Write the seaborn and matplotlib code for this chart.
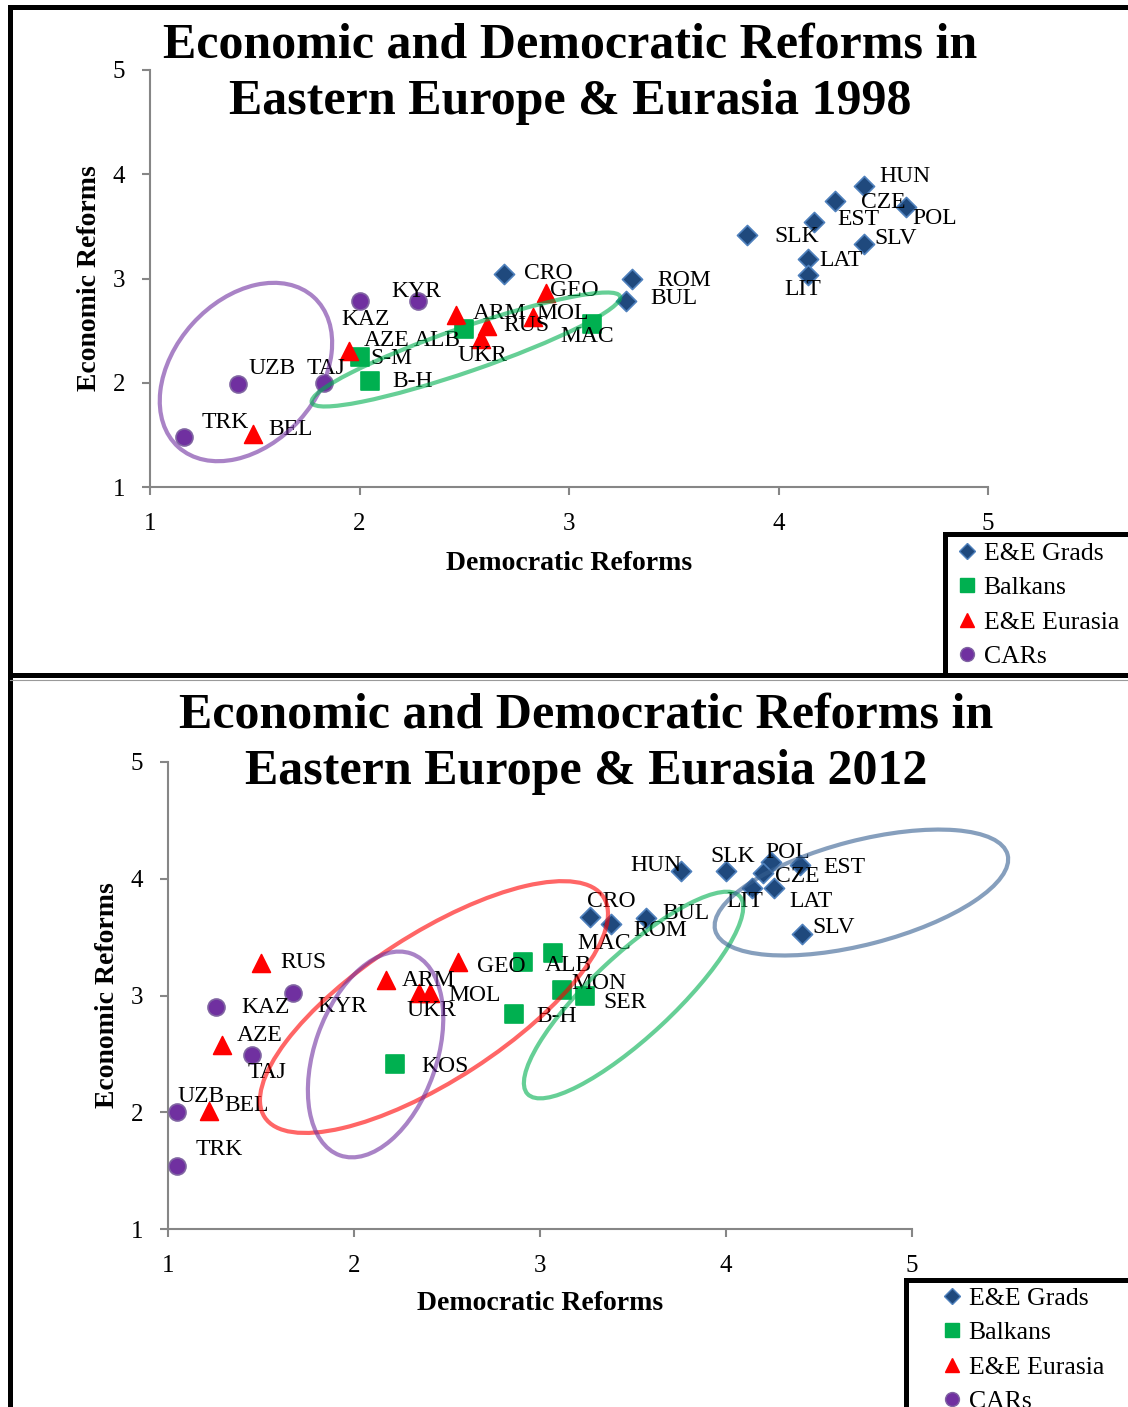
import pandas as pd
import matplotlib.pyplot as plt
import seaborn as sns
from matplotlib import transforms
from matplotlib.patches import Ellipse
from matplotlib.lines import Line2D

sns.set_style("ticks")
plt.rcParams["font.family"] = ["Liberation Serif", "DejaVu Serif"]
plt.rcParams["text.color"] = "black"

# ---------------- data: 1998 ----------------
grads_98 = ["HUN", "CZE", "POL", "EST", "SLV", "SLK", "LAT", "LIT", "CRO", "ROM", "BUL"]
grads_98_dem = [4.41, 4.27, 4.61, 4.17, 4.41, 3.85, 4.14, 4.14, 2.69, 3.30, 3.27]
grads_98_econ = [3.89, 3.74, 3.69, 3.54, 3.33, 3.42, 3.19, 3.03, 3.04, 3.00, 2.78]

balkans_98 = ["S-M", "B-H", "ALB", "MAC"]
balkans_98_dem = [2.00, 2.05, 2.50, 3.11]
balkans_98_econ = [2.25, 2.02, 2.52, 2.56]

eurasia_98 = ["AZE", "ARM", "RUS", "UKR", "MOL", "GEO", "BEL"]
eurasia_98_dem = [1.95, 2.46, 2.61, 2.58, 2.83, 2.89, 1.49]
eurasia_98_econ = [2.30, 2.65, 2.54, 2.42, 2.63, 2.86, 1.51]

cars_98 = ["TRK", "UZB", "TAJ", "KAZ", "KYR"]
cars_98_dem = [1.16, 1.42, 1.83, 2.00, 2.28]
cars_98_econ = [1.48, 1.99, 2.00, 2.78, 2.78]

# ---------------- data: 2012 ----------------
grads_12 = ["HUN", "SLK", "POL", "CZE", "EST", "LIT", "LAT", "SLV", "CRO", "ROM", "BUL"]
grads_12_dem = [3.76, 4.00, 4.24, 4.20, 4.40, 4.14, 4.26, 4.41, 3.27, 3.38, 3.57]
grads_12_econ = [4.07, 4.07, 4.14, 4.05, 4.12, 3.92, 3.92, 3.53, 3.67, 3.61, 3.66]

balkans_12 = ["ALB", "MAC", "MON", "SER", "B-H", "KOS"]
balkans_12_dem = [2.91, 3.07, 3.12, 3.24, 2.86, 2.22]
balkans_12_econ = [3.29, 3.36, 3.05, 3.00, 2.84, 2.41]

eurasia_12 = ["RUS", "ARM", "UKR", "MOL", "GEO", "AZE", "BEL"]
eurasia_12_dem = [1.50, 2.17, 2.35, 2.41, 2.56, 1.29, 1.22]
eurasia_12_econ = [3.28, 3.13, 3.02, 3.02, 3.29, 2.58, 2.01]

cars_12 = ["KYR", "KAZ", "TAJ", "UZB", "TRK"]
cars_12_dem = [1.67, 1.26, 1.45, 1.05, 1.05]
cars_12_econ = [3.02, 2.90, 2.49, 2.00, 1.54]

groups = ["E&E Grads", "Balkans", "E&E Eurasia", "CARs"]


def make_df(parts):
    rows = []
    for group, names, dem, econ in parts:
        for n, d, e in zip(names, dem, econ):
            rows.append((group, n, d, e))
    return pd.DataFrame(rows, columns=["group", "country", "dem", "econ"])


df98 = make_df([
    ("E&E Grads", grads_98, grads_98_dem, grads_98_econ),
    ("Balkans", balkans_98, balkans_98_dem, balkans_98_econ),
    ("E&E Eurasia", eurasia_98, eurasia_98_dem, eurasia_98_econ),
    ("CARs", cars_98, cars_98_dem, cars_98_econ),
])
df12 = make_df([
    ("E&E Grads", grads_12, grads_12_dem, grads_12_econ),
    ("Balkans", balkans_12, balkans_12_dem, balkans_12_econ),
    ("E&E Eurasia", eurasia_12, eurasia_12_dem, eurasia_12_econ),
    ("CARs", cars_12, cars_12_dem, cars_12_econ),
])

# ---------------- styles ----------------
marker = {"E&E Grads": "D", "Balkans": "s", "E&E Eurasia": "^", "CARs": "o"}
face = {"E&E Grads": "#1F497D", "Balkans": "#00B050", "E&E Eurasia": "#FF0000", "CARs": "#7030A0"}
edge = {"E&E Grads": "#4F81BD", "Balkans": "#00B050", "E&E Eurasia": "#FF0000", "CARs": "#8064A2"}
msize = {"E&E Grads": 105, "Balkans": 150, "E&E Eurasia": 165, "CARs": 150}

# label offsets in pixels (dx right, dy down) and alignment
off98 = {
    "HUN": (15, -9, "left"), "CZE": (26, 1, "left"), "POL": (6, 12, "left"),
    "EST": (23, -3, "left"), "SLV": (10, -6, "left"), "SLK": (27, 2, "left"),
    "LAT": (12, 2, "left"), "LIT": (-5, 14, "center"), "CRO": (20, -1, "left"),
    "ROM": (26, 2, "left"), "BUL": (25, -3, "left"), "S-M": (11, 2, "left"),
    "B-H": (22, 1, "left"), "ALB": (-27, 12, "center"), "MAC": (-5, 12, "center"),
    "AZE": (15, -11, "left"), "ARM": (17, -1, "left"), "RUS": (16, -1, "left"),
    "UKR": (1, 17, "center"), "MOL": (3, -4, "left"), "GEO": (4, -3, "left"),
    "KYR": (-2, -10, "center"), "KAZ": (6, 18, "center"), "UZB": (10, -15, "left"),
    "TAJ": (2, -14, "center"), "TRK": (18, -14, "left"), "BEL": (16, -4, "left"),
}
off12 = {
    "RUS": (19, 0, "left"), "KAZ": (25, 0, "left"), "KYR": (25, 13, "left"),
    "AZE": (15, -9, "left"), "TAJ": (15, 17, "center"), "UZB": (0, -16, "left"),
    "BEL": (15, -6, "left"), "TRK": (18, -16, "left"), "ARM": (16, 0, "left"),
    "MOL": (18, 2, "left"), "UKR": (12, 17, "center"), "GEO": (19, 5, "left"),
    "KOS": (26, 2, "left"), "B-H": (22, 2, "left"), "ALB": (22, 4, "left"),
    "MAC": (24, -10, "left"), "MON": (9, -6, "left"), "SER": (19, 7, "left"),
    "CRO": (21, -16, "center"), "ROM": (23, 6, "left"), "BUL": (16, -5, "left"),
    "HUN": (-25, -5, "center"), "SLK": (7, -14, "center"), "POL": (17, -10, "center"),
    "CZE": (12, 4, "left"), "EST": (23, 3, "left"), "LIT": (-7, 13, "center"),
    "LAT": (15, 13, "left"), "SLV": (10, -6, "left"),
}

# rings: centre (data), semi-axes (px), angle, colour
rings98 = [(1.458, 2.103, 101, 72, 48, "#7030A0"),
           (2.508, 2.319, 163, 22, 19, "#00B050")]
rings12 = [(2.430, 2.901, 202, 73, 33, "#FF0000"),
           (2.116, 2.495, 107, 61, 70.5, "#7030A0"),
           (3.503, 3.004, 145, 41, 43, "#00B050"),
           (4.728, 3.882, 151, 52, 14.5, "#365F91")]

W, H, DPI = 1128, 1407, 100
fig = plt.figure(figsize=(W / DPI, H / DPI), dpi=DPI)


def fx(px):
    return px / W


def fy(py):
    return 1 - py / H


def draw_panel(rect, df, offsets, rings):
    ax = fig.add_axes(rect)
    for g in groups:
        sub = df[df["group"] == g]
        sns.scatterplot(data=sub, x="dem", y="econ", ax=ax, marker=marker[g],
                        color=face[g], edgecolor=edge[g], linewidth=1.2,
                        s=msize[g], legend=False, zorder=3, clip_on=False)
    for _, r in df.iterrows():
        dx, dy, ha = offsets[r["country"]]
        ax.annotate(r["country"], (r["dem"], r["econ"]), xytext=(dx, -dy),
                    textcoords="offset pixels", ha=ha, va="center",
                    fontsize=17, zorder=4, annotation_clip=False)
    for cx, cy, a, b, ang, col in rings:
        tr = fig.dpi_scale_trans + transforms.ScaledTranslation(cx, cy, ax.transData)
        ax.add_artist(Ellipse((0, 0), 2 * a / DPI, 2 * b / DPI, angle=ang,
                              transform=tr, fill=False, edgecolor=col,
                              linewidth=3, alpha=0.6, zorder=5, clip_on=False))
    ax.set_xlim(1, 5)
    ax.set_ylim(1, 5)
    ax.set_xticks([1, 2, 3, 4, 5])
    ax.set_yticks([1, 2, 3, 4, 5])
    ax.set_xlabel("")
    ax.set_ylabel("")
    sns.despine(ax=ax)
    for s in ["left", "bottom"]:
        ax.spines[s].set_color("#868686")
        ax.spines[s].set_linewidth(1.5)
    ax.tick_params(axis="both", length=6, width=1.5, color="#868686",
                   labelsize=18, labelcolor="black", direction="out")
    ax.tick_params(axis="x", pad=13)
    ax.tick_params(axis="y", pad=12)
    ax.patch.set_alpha(0)
    return ax


ax1 = draw_panel([fx(150), fy(487), (988 - 150) / W, (487 - 70) / H], df98, off98, rings98)
ax2 = draw_panel([fx(168), fy(1229), (912 - 168) / W, (1229 - 762) / H], df12, off12, rings12)

# titles and axis labels
tkw = dict(ha="center", va="center", fontsize=36, fontweight="bold", color="black")
fig.text(fx(570), fy(46), "Economic and Democratic Reforms in", **tkw)
fig.text(fx(570), fy(102), "Eastern Europe & Eurasia 1998", **tkw)
fig.text(fx(586), fy(716), "Economic and Democratic Reforms in", **tkw)
fig.text(fx(586), fy(772), "Eastern Europe & Eurasia 2012", **tkw)

lkw = dict(ha="center", va="center", fontsize=20, fontweight="bold", color="black")
fig.text(fx(569), fy(563), "Democratic Reforms", **lkw)
fig.text(fx(89), fy(278), "Economic Reforms", rotation=90, **lkw)
fig.text(fx(540), fy(1304), "Democratic Reforms", **lkw)
fig.text(fx(107), fy(995), "Economic Reforms", rotation=90, **lkw)

# panel frames
def fline(x0, y0, x1, y1, lw=3.6, color="black"):
    fig.add_artist(Line2D([fx(x0), fx(x1)], [fy(y0), fy(y1)], color=color,
                          linewidth=lw, transform=fig.transFigure, solid_capstyle="projecting"))


fline(10, 7, 10, H + 5)
fline(10, 7, W + 5, 7)
fline(10, 675, W + 5, 675)
fline(10, 680, W + 5, 680, lw=0.8, color="#9A9A9A")
fline(945, 534, 945, 675)
fline(945, 534, W + 5, 534)
fline(906, 1280, 906, H + 5)
fline(906, 1280, W + 5, 1280)

# legends
handles = [Line2D([], [], linestyle="none", marker=marker[g], markersize=(10 if g != "E&E Grads" else 8),
                  markerfacecolor=face[g], markeredgecolor=edge[g], label=g) for g in groups]
for lx, ly in [(958, 542), (943, 1287)]:
    fig.legend(handles=handles, loc="upper left", bbox_to_anchor=(fx(lx), fy(ly)),
               frameon=False, fontsize=18.5, handlelength=0.7, handletextpad=0.3,
               labelspacing=0.44, borderpad=0, borderaxespad=0, labelcolor="black")

fig.savefig("out.png", dpi=DPI)
